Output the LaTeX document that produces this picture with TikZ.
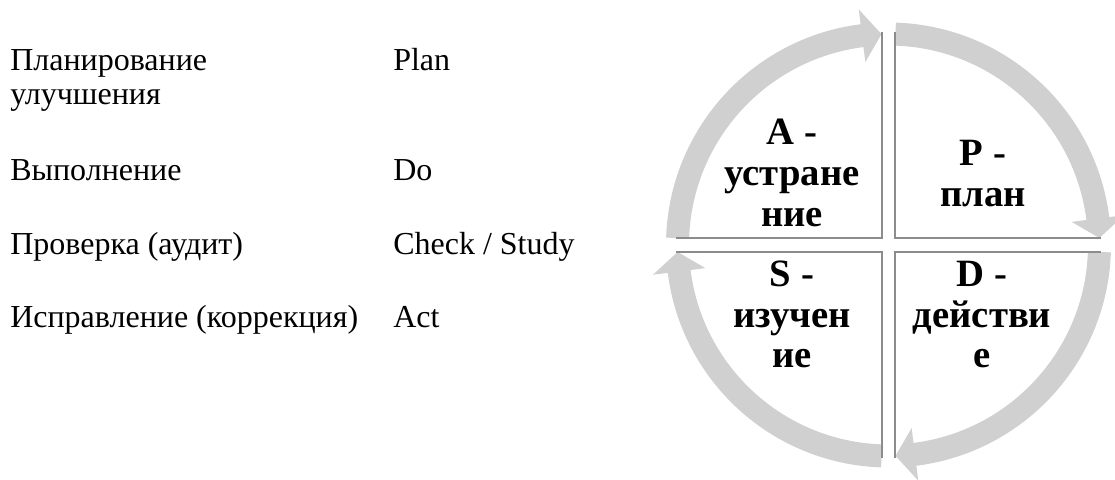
\documentclass[tikz,border=0pt]{standalone}
\usepackage{fontspec}
\setmainfont{Liberation Serif}
\usetikzlibrary{calc}

\definecolor{arrowgray}{RGB}{208,208,208}
\definecolor{linegray}{RGB}{140,140,140}

\begin{document}
\begin{tikzpicture}[x=0.75pt,y=0.75pt,
    lbl/.style={anchor=base west,inner sep=0pt,font=\fontsize{24}{28}\selectfont},
    quad/.style={anchor=base,align=center,inner sep=0pt,font=\bfseries\fontsize{29}{30.75}\selectfont},
    sep/.style={linegray,line width=1.5pt}]

\useasboundingbox (0,0) rectangle (1115,479);

	%table on the left
 \def\cx{10};
 \def\cy{393};
    \foreach \y/\txt/\name in {408/Планирование/ru1,374/улучшения/ru1b,298/Выполнение/ru2,224/{Проверка (аудит)}/ru3,151/{Исправление (коррекция)}/ru4}{
           \node[lbl] (\name) at (\cx,\y) {\txt};
    }
    \foreach \y/\txt/\name in {408/Plan/en1,298/Do/en2,224/{Check / Study}/en3,151/Act/en4}{
           \node[lbl] (\name) at (\cy,\y) {\txt};
    }

	%cycle
 \def\ri{199.5};
 \def\ro{222.5};
 \def\rm{211};
 \coordinate (O) at (888.5,234);
    \foreach \q in {180,90,0,-90}{
           \fill[arrowgray,shift={(O)}] (\q-1.9:\ro) arc[start angle=\q-1.9,end angle=\q-82.8,radius=\ro]
              -- (\q-82.8:\rm+26.5) -- (\q-88.1:\rm) -- (\q-82.8:\rm-26.5)
              -- (\q-82.8:\ri) arc[start angle=\q-82.8,end angle=\q-1.9,radius=\ri] -- cycle;
    }

	%quadrants
 \def\d{206};
    \foreach \sx/\sy in {-1/1,1/1,1/-1,-1/-1}{
           \draw[sep] ($(O)+(\sx*6.75,\sy*7)$) ++(0,\sy*\d) -- ++(0,-\sy*\d) -- ++(\sx*\d,0);
    }

    \node[quad] (act) at (792,252) {A -\\устране\\ние};
    \node[quad] (plan) at (983,272) {P -\\план};
    \node[quad] (study) at (792,111) {S -\\изучен\\ие};
    \node[quad] (do) at (982,111) {D -\\действи\\е};

\end{tikzpicture}
\end{document}
